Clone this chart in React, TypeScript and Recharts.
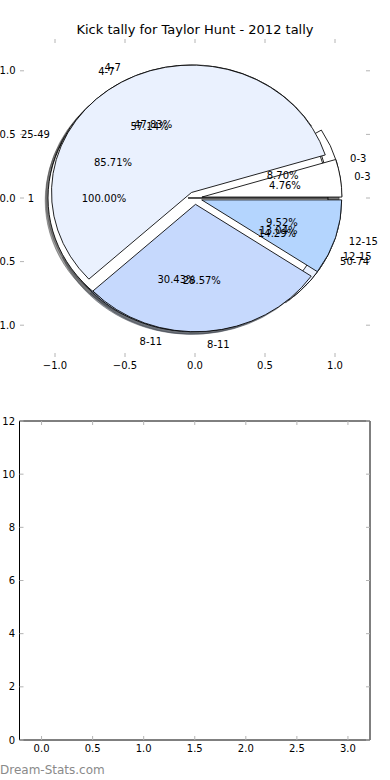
import React from 'react';
import { PieChart, Pie, Cell, Sector, LineChart, XAxis, YAxis } from 'recharts';

const chartTitle = 'Kick tally for Taylor Hunt - 2012 tally';
const watermark = 'Dream-Stats.com';

// pies in drawing order (bottom to top)
const pieALabels = ['0-3', '4-7', '8-11', '12-15'];
const pieAValues = [2, 11, 7, 3];
const pieCLabels = ['25-49', '50-74'];
const pieCValues = [6, 1];
const pieDLabels = ['1'];
const pieDValues = [1];
const pieBLabels = ['0-3', '4-7', '8-11', '12-15'];
const pieBValues = [1, 12, 6, 2];
const pieColors = ['#ffffff', '#eaf1fe', '#c6d9fd', '#b4d5fe'];

const pieAxisTicks = [-1, -0.5, 0, 0.5, 1];
const pieAxisDomain = [-1.25, 1.25];
const barXTicks = [0, 0.5, 1, 1.5, 2, 2.5, 3];
const barYTicks = [0, 2, 4, 6, 8, 10, 12];
const barXDomain = [-0.216, 3.216];
const barYDomain = [0, 12];

const FONT = '"DejaVu Sans", Verdana, sans-serif';
const S = 0.91; // vertical squash of the pie (non-equal axis aspect)
const EXPLODE = 0.05;
const RAD = Math.PI / 180;
const TICK_COLOR = '#b4b4b4';

const toData = (labels: string[], values: number[]) =>
  labels.map((name, i) => ({ name, value: values[i] }));

const pies = [
  { id: 'A', data: toData(pieALabels, pieAValues) },
  { id: 'C', data: toData(pieCLabels, pieCValues) },
  { id: 'D', data: toData(pieDLabels, pieDValues) },
  { id: 'B', data: toData(pieBLabels, pieBValues) },
];

// axis rows (tick positions only, no series drawn)
const pieAxisRows = pieAxisTicks.map((x) => ({ x }));
const barAxisRows = barXTicks.map((x) => ({ x }));

const darken = (hex: string) => {
  const n = parseInt(hex.slice(1), 16);
  const r = Math.round(((n >> 16) & 255) * 0.3);
  const g = Math.round(((n >> 8) & 255) * 0.3);
  const b = Math.round((n & 255) * 0.3);
  return `rgb(${r},${g},${b})`;
};

const fmtTick = (v: number) => {
  const s = Math.abs(v).toFixed(1);
  return v < 0 ? '\u2212' + s : s;
};

const makeShape = (shadow: boolean) => (props: any) => {
  const { cx, cy, outerRadius, midAngle } = props;
  let dx = EXPLODE * outerRadius * Math.cos(-midAngle * RAD);
  let dy = EXPLODE * outerRadius * Math.sin(-midAngle * RAD);
  if (shadow) {
    dx += -0.02 * outerRadius;
    dy += 0.02 * outerRadius;
  }
  return <Sector {...props} cx={cx + dx} cy={cy + dy} />;
};
const wedgeShape = makeShape(false);
const shadowShape = makeShape(true);

const renderPieLabels = (props: any) => {
  const { cx, cy, midAngle, outerRadius, percent, name } = props;
  const c = Math.cos(-midAngle * RAD);
  const sn = Math.sin(-midAngle * RAD);
  const lr = (1.1 + EXPLODE) * outerRadius;
  const pr = (0.6 + EXPLODE) * outerRadius;
  const lx = cx + lr * c;
  const ly = cy + lr * sn;
  const px = cx + pr * c;
  const py = cy + pr * sn;
  return (
    <g>
      <text
        transform={`translate(${lx},${ly}) scale(1,${1 / S})`}
        textAnchor={lx - cx < 0 ? 'end' : 'start'}
        dominantBaseline="central"
        fontSize={10}
        fontFamily={FONT}
        fill="#000"
      >
        {name}
      </text>
      <text
        transform={`translate(${px},${py}) scale(1,${1 / S})`}
        textAnchor="middle"
        dominantBaseline="central"
        fontSize={10}
        fontFamily={FONT}
        fill="#000"
      >
        {(percent * 100).toFixed(2) + '%'}
      </text>
    </g>
  );
};

const tx = (p: any) => (Number.isFinite(p.x) ? p.x : p.payload?.coordinate);
const ty = (p: any) => (Number.isFinite(p.y) ? p.y : p.payload?.coordinate);

// tick renderers: inward gray tick mark, optional label outside
const bottomTick = (p: any) => {
  const x = tx(p);
  const y = p.y;
  return (
    <g>
      <line x1={x} x2={x} y1={y} y2={y - 4} stroke={TICK_COLOR} strokeWidth={1} />
      <text x={x} y={y + 8} textAnchor="middle" dominantBaseline="central" fontSize={10} fontFamily={FONT} fill="#000">
        {fmtTick(p.payload.value)}
      </text>
    </g>
  );
};
const topTick = (p: any) => {
  const x = tx(p);
  return <line x1={x} x2={x} y1={p.y} y2={p.y + 4} stroke={TICK_COLOR} strokeWidth={1} />;
};
const leftTick = (intLabels: boolean) => (p: any) => {
  const y = ty(p);
  return (
    <g>
      <line x1={p.x} x2={p.x + 4} y1={y} y2={y} stroke={TICK_COLOR} strokeWidth={1} />
      <text x={p.x - 4.5} y={y} textAnchor="end" dominantBaseline="central" fontSize={10} fontFamily={FONT} fill="#000">
        {intLabels ? String(p.payload.value) : fmtTick(p.payload.value)}
      </text>
    </g>
  );
};
const rightTick = (p: any) => {
  const y = ty(p);
  return <line x1={p.x} x2={p.x - 4} y1={y} y2={y} stroke={TICK_COLOR} strokeWidth={1} />;
};

const axisCommon = {
  type: 'number' as const,
  allowDataOverflow: true,
  tickLine: false,
  tickSize: 0,
  tickMargin: 0,
  interval: 0 as const,
};

export default function App() {
  const pieCx = 195;
  const pieCy = 198 / S;
  const R = 140;
  const frame = { stroke: '#000', strokeWidth: 1 };
  return (
    <div style={{ position: 'absolute', left: 0, top: 0, width: 390, height: 780, background: '#fff', overflow: 'hidden', fontFamily: FONT }}>
      {/* title */}
      <div style={{ position: 'absolute', left: 0, top: 21, width: 390, textAlign: 'center', fontSize: 13, lineHeight: '18px', color: '#000' }}>
        {chartTitle}
      </div>

      {/* pie axes frame (ticks only) */}
      <div style={{ position: 'absolute', left: 0, top: 0 }}>
        <LineChart width={390} height={380} data={pieAxisRows} margin={{ top: 38, right: 19, bottom: 22, left: 19 }}>
          <XAxis dataKey="x" orientation="bottom" domain={pieAxisDomain} ticks={pieAxisTicks} height={1} axisLine={false} tick={bottomTick} {...axisCommon} />
          <XAxis xAxisId="t" dataKey="x" orientation="top" domain={pieAxisDomain} ticks={pieAxisTicks} height={1} axisLine={false} tick={topTick} {...axisCommon} />
          <YAxis orientation="left" domain={pieAxisDomain} ticks={pieAxisTicks} width={1} axisLine={false} tick={leftTick(false)} {...axisCommon} />
          <YAxis yAxisId="r" orientation="right" domain={pieAxisDomain} ticks={pieAxisTicks} width={1} axisLine={false} tick={rightTick} {...axisCommon} />
        </LineChart>
      </div>

      {/* pies */}
      <div style={{ position: 'absolute', left: 0, top: 0, transform: `scaleY(${S})`, transformOrigin: '0 0' }}>
        <PieChart width={390} height={430} margin={{ top: 0, right: 0, bottom: 0, left: 0 }}>
          {pies.map((p) => (
            <Pie key={'sh' + p.id} data={p.data} dataKey="value" nameKey="name" cx={pieCx} cy={pieCy}
              outerRadius={R} innerRadius={0} startAngle={0} endAngle={360} isAnimationActive={false}
              shape={shadowShape} strokeWidth={1} fillOpacity={0.5} strokeOpacity={0.5}>
              {p.data.map((d, i) => (
                <Cell key={i} fill={darken(pieColors[i])} stroke={darken(pieColors[i])} />
              ))}
            </Pie>
          ))}
          {pies.map((p) => (
            <Pie key={'w' + p.id} data={p.data} dataKey="value" nameKey="name" cx={pieCx} cy={pieCy}
              outerRadius={R} innerRadius={0} startAngle={0} endAngle={360} isAnimationActive={false}
              shape={wedgeShape} stroke="#000" strokeWidth={0.9}>
              {p.data.map((d, i) => (
                <Cell key={i} fill={pieColors[i]} stroke="#000" />
              ))}
            </Pie>
          ))}
          {pies.map((p) => (
            <Pie key={'l' + p.id} data={p.data} dataKey="value" nameKey="name" cx={pieCx} cy={pieCy}
              outerRadius={R} innerRadius={0} startAngle={0} endAngle={360} isAnimationActive={false}
              fill="none" stroke="none" label={renderPieLabels} labelLine={false} />
          ))}
        </PieChart>
      </div>

      {/* empty lower axes */}
      <div style={{ position: 'absolute', left: 0, top: 400 }}>
        <LineChart width={390} height={380} data={barAxisRows} margin={{ top: 20, right: 19, bottom: 39, left: 18.5 }}>
          <XAxis dataKey="x" orientation="bottom" domain={barXDomain} ticks={barXTicks} height={1} axisLine={frame} tick={bottomTick} {...axisCommon} />
          <XAxis xAxisId="t" dataKey="x" orientation="top" domain={barXDomain} ticks={barXTicks} height={1} axisLine={frame} tick={topTick} {...axisCommon} />
          <YAxis orientation="left" domain={barYDomain} ticks={barYTicks} width={1} axisLine={frame} tick={leftTick(true)} {...axisCommon} />
          <YAxis yAxisId="r" orientation="right" domain={barYDomain} ticks={barYTicks} width={1} axisLine={frame} tick={rightTick} {...axisCommon} />
        </LineChart>
      </div>

      {/* watermark */}
      <div style={{ position: 'absolute', left: 0, top: 762, fontSize: 12, lineHeight: '16px', color: '#8a8a8a' }}>
        {watermark}
      </div>
    </div>
  );
}
